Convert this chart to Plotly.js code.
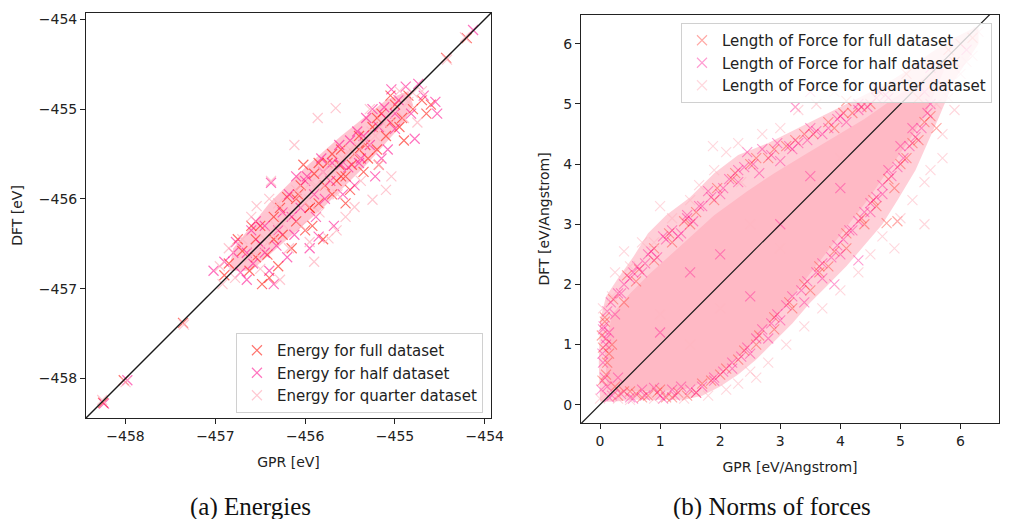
<!DOCTYPE html>
<html>
<head>
<meta charset="utf-8">
<script src="https://cdn.plot.ly/plotly-3.0.1.min.js"></script>
<style>html,body{margin:0;padding:0;background:#fff;}#chart{width:1011px;height:519px;}</style>
</head>
<body>
<div id="chart"></div>
<script>
// ---------- Energies (a) ----------
const energyFullGPR = [-458.25,-458.02,-457.36,-454.20,-454.43,
 -456.85,-456.70,-456.62,-456.55,-456.48,-456.42,-456.35,-456.30,-456.25,-456.20,-456.15,-456.10,-456.05,-456.00,-455.95,-455.90,-455.85,-455.80,-455.75,-455.70,-455.65,-455.60,-455.55,-455.50,-455.45,-455.40,-455.35,-455.30,-455.25,-455.20,-455.15,-455.10,-455.05,-455.00,-454.95,-454.90,-454.85,-454.80,-454.70,-454.65,-454.60,
 -456.75,-456.55,-456.40,-456.28,-456.08,-455.92,-455.78,-455.62,-455.48,-455.33,-455.18,-455.05,-454.92,-456.90,-456.02,-455.55,
 -456.60,-456.35,-456.10,-455.85,-455.60,-455.40,-455.20,-456.50,-455.95,-455.70];
const energyFullDFT = [-458.27,-458.02,-457.38,-454.21,-454.43,
 -456.72,-456.58,-456.80,-456.45,-456.95,-456.62,-456.20,-456.75,-456.40,-455.98,-456.55,-456.25,-455.85,-456.35,-456.10,-455.72,-456.05,-456.45,-455.60,-455.95,-455.80,-455.45,-455.75,-455.90,-455.50,-455.30,-455.70,-455.55,-455.20,-455.45,-455.05,-455.30,-455.15,-454.95,-455.20,-455.35,-454.85,-455.00,-454.90,-455.05,-454.95,
 -456.45,-456.65,-456.88,-456.10,-455.95,-456.30,-455.85,-455.62,-455.62,-455.40,-455.62,-454.85,-455.10,-456.85,-455.62,-456.05,
 -456.30,-456.45,-456.00,-455.60,-455.75,-455.45,-455.10,-456.30,-456.10,-455.50];

const energyHalfGPR = [-458.24,-457.98,-454.13,
 -457.02,-456.90,-456.80,-456.77,-456.65,-456.58,-456.50,-456.45,-456.40,-456.38,-456.32,-456.25,-456.20,-456.18,-456.12,-456.05,-455.98,-455.95,-455.88,-455.82,-455.78,-455.72,-455.68,-455.62,-455.58,-455.52,-455.45,-455.42,-455.38,-455.32,-455.28,-455.22,-455.18,-455.12,-455.08,-455.04,-455.00,-454.96,-454.88,-454.82,-454.78,-454.74,-454.68,-454.55,-454.53,
 -456.60,-456.35,-456.10,-455.85,-455.60,-455.35,-455.15,-456.72,
 -456.55,-456.30,-456.00,-455.90,-455.70,-455.50,-455.25,-455.10,-456.45,-456.15,-455.80,-455.40,-456.65,-455.00];
const energyHalfDFT = [-458.28,-458.02,-454.12,
 -456.80,-456.70,-456.60,-456.48,-456.90,-456.72,-456.50,-456.30,-456.80,-455.82,-456.52,-456.15,-456.65,-455.95,-456.40,-456.10,-455.75,-456.55,-456.20,-455.55,-456.00,-455.80,-456.30,-455.40,-455.95,-455.65,-455.85,-455.25,-455.55,-455.10,-455.40,-455.75,-455.20,-454.98,-455.45,-454.78,-455.22,-454.90,-454.75,-455.05,-455.33,-454.72,-454.85,-454.92,-455.05,
 -456.35,-456.95,-455.75,-456.42,-455.62,-455.30,-455.55,-456.82,
 -456.25,-456.35,-455.80,-455.95,-455.60,-455.35,-455.00,-455.10,-456.60,-456.20,-455.70,-455.60,-456.60,-455.05];

const energyQuarterGPR = [-458.26,-458.00,-457.35,-454.42,-454.22,
 -456.95,-456.85,-456.78,-456.70,-456.62,-456.60,-456.54,-456.50,-456.45,-456.40,-456.38,-456.33,-456.28,-456.22,-456.18,-456.12,-456.10,-456.04,-456.00,-455.94,-455.90,-455.86,-455.84,-455.80,-455.74,-455.70,-455.66,-455.64,-455.58,-455.55,-455.50,-455.45,-455.42,-455.38,-455.32,-455.28,-455.25,-455.22,-455.18,-455.14,-455.10,-455.06,-455.04,-455.00,-454.95,-454.90,-454.85,-454.80,-454.75,-454.70,
 -456.92,-456.48,-456.30,-456.15,-456.06,-455.96,-455.88,-455.76,-455.68,-455.60,-455.52,-455.44,-455.36,-455.26,-455.16,-455.08,-456.25,-456.36,-456.56,-455.80,-455.95,-455.65];
const energyQuarterDFT = [-458.24,-458.04,-457.40,-454.45,-454.20,
 -456.75,-456.55,-456.88,-456.45,-456.65,-456.20,-456.08,-456.78,-456.45,-456.00,-455.80,-456.30,-456.90,-456.20,-456.55,-455.40,-455.90,-456.30,-456.05,-455.82,-456.70,-455.10,-456.15,-455.70,-456.44,-455.65,-454.99,-455.95,-455.55,-456.20,-455.45,-456.09,-455.40,-455.80,-455.35,-455.00,-456.01,-455.30,-455.62,-455.15,-455.90,-455.08,-455.75,-455.00,-454.80,-455.10,-454.92,-454.82,-455.15,-454.80,
 -456.95,-456.55,-456.05,-456.15,-455.95,-456.00,-455.85,-455.75,-455.70,-455.58,-455.48,-455.50,-455.38,-455.25,-455.20,-455.10,-456.28,-456.40,-456.60,-455.86,-456.48,-456.35];

// dense core outline of the energy cloud
const energyCoreGPR = [-456.80,-456.40,-456.00,-455.60,-455.10,-454.85,-454.80,-454.90,-455.30,-455.80,-456.20,-456.60,-456.85];
const energyCoreDFT = [-456.55,-456.05,-455.65,-455.30,-454.90,-454.80,-454.95,-455.15,-455.60,-456.10,-456.45,-456.80,-456.80];

// ---------- Norms of forces (b) ----------
const forceFullGPR = [0.8,0.95,0.6,1.1,0.4,1.3,0.25,0.1,0.15,0.08,0.2,0.05,
 0.4,0.6,0.9,1.2,1.5,1.9,2.2,2.5,2.8,3.1,3.4,3.8,4.2,4.5,4.1,4.9,5.1,
 5.3,5.5,5.3,5.1,4.9,4.6,4.4,4.1,3.8,3.5,3.2,2.9,2.6,2.3,2.0,1.7,1.45,4.77,3.65,5.6,
 5.8,6.0,5.9,6.2,
 0.08,0.22,0.45,0.65,0.9,1.15,1.4,1.6,1.95,2.25,2.6,2.9,3.25,3.55,3.9,4.35,4.65,4.05,
 1.6,1.85,2.1,2.4,2.65,2.9,3.15,3.4,3.65,3.9,4.1,4.35,4.55,4.8,5.0,5.2,5.4,4.95,
 0.3,0.5,0.7,1.0,1.2,0.04,0.12,0.03];
const forceFullDFT = [0.15,0.2,0.18,0.12,0.22,0.2,0.3,0.5,0.85,1.38,1.0,0.95,
 1.7,2.05,2.4,2.7,3.0,3.4,3.75,4.0,4.1,4.3,4.5,4.7,4.85,5.0,5.05,5.3,5.5,
 5.1,4.8,4.4,4.1,3.6,3.3,3.0,2.6,2.3,1.9,1.6,1.25,1.0,0.75,0.5,0.35,0.15,3.02,2.2,4.6,
 5.9,6.0,5.7,6.1,
 1.45,1.75,2.15,2.25,2.6,2.85,3.05,3.2,3.6,3.85,4.1,4.25,4.4,4.5,4.6,4.95,5.2,4.85,
 0.2,0.4,0.6,0.9,1.15,1.45,1.7,2.0,2.3,2.55,2.85,3.1,3.4,3.75,4.0,4.35,4.7,3.05,
 0.15,0.22,0.12,0.25,0.12,0.4,0.7,1.15];

const forceHalfGPR = [0.2,0.5,0.7,1.0,1.2,1.6,0.12,0.05,0.15,0.25,0.1,0.3,
 0.35,0.55,0.75,0.8,1.05,1.35,1.45,1.7,1.8,2.05,2.3,2.45,2.7,2.95,3.2,3.5,3.7,4.0,4.3,3.25,3.5,4.6,4.8,
 5.4,5.2,5.0,4.8,4.7,4.5,4.2,4.0,3.7,3.4,3.0,2.8,2.5,2.2,1.9,5.7,5.5,6.1,4.3,3.9,
 1.0,2.0,3.0,2.5,1.5,3.5,4.0,
 0.05,0.12,0.18,0.3,0.4,0.5,0.62,0.7,0.85,0.95,1.1,1.2,1.3,1.45,1.55,1.65,1.85,2.0,2.15,2.3,2.4,2.55,2.65,2.85,3.0,3.15,3.3,3.45,3.6,3.8,3.95,4.1,4.3,4.45,4.6,4.75,
 1.5,1.7,1.9,2.05,2.2,2.35,2.45,2.6,2.7,2.85,2.95,3.1,3.2,3.35,3.45,3.6,3.7,3.85,3.95,4.05,4.15,4.3,4.4,4.5,4.6,4.7,4.85,4.95,5.05,5.15,5.25,5.35,5.45,5.5,
 0.15,0.35,0.55,0.75,0.9,1.05,1.25,1.35,0.02,0.08,0.04,0.1,0.06];
const forceHalfDFT = [0.15,0.12,0.25,0.15,0.25,0.2,0.3,0.7,1.2,1.5,1.1,0.45,
 1.85,2.2,2.35,2.5,2.8,2.85,3.1,3.3,3.55,3.6,3.9,4.2,4.25,4.35,4.25,4.6,4.5,4.8,5.0,4.95,5.2,5.25,5.1,
 5.2,4.6,4.3,3.9,3.5,3.2,2.9,2.5,2.1,1.7,1.4,1.1,0.85,0.6,0.4,5.3,5.6,5.9,2.4,2.0,
 1.2,2.5,3.0,1.8,2.2,3.8,3.6,
 1.25,1.55,1.7,1.85,2.0,2.1,2.3,2.2,2.55,2.45,2.75,2.9,2.8,3.15,3.05,3.3,3.45,3.5,3.75,3.7,3.95,4.0,3.85,4.15,4.05,4.3,4.35,4.4,4.55,4.6,4.75,4.7,4.9,4.95,5.1,5.15,
 0.25,0.3,0.45,0.55,0.7,0.8,0.95,1.1,1.25,1.35,1.5,1.65,1.8,1.9,2.05,2.2,2.35,2.45,2.65,2.75,2.9,3.05,3.2,3.35,3.45,3.65,3.8,3.95,4.1,4.3,4.45,4.6,4.85,5.0,
 0.12,0.18,0.1,0.15,0.28,0.1,0.15,0.3,0.25,0.45,0.85,1.0,1.3];

const forceQuarterGPR = [0.0,0.1,0.3,0.5,0.9,1.4,1.8,2.1,2.5,2.3,
 0.05,0.2,0.25,0.5,0.7,0.9,1.0,1.2,1.5,1.65,1.9,1.88,2.1,2.3,2.7,3.0,3.3,3.6,3.9,4.2,2.35,0.4,
 5.7,5.5,5.4,5.2,5.0,4.7,4.5,4.3,4.0,3.7,3.4,3.1,2.8,2.6,5.7,5.9,6.0,6.3,6.1,5.8,6.2,5.4,4.9,5.6,
 1.0,2.0,3.0,4.0,1.5,2.5];
const forceQuarterDFT = [0.1,0.15,0.1,0.08,0.1,0.1,0.15,0.25,0.55,0.35,
 1.6,1.8,2.2,2.3,2.7,2.7,3.3,3.1,3.4,3.65,3.9,4.3,4.2,4.35,4.5,4.6,4.9,5.0,5.2,5.3,3.7,2.55,
 4.1,3.9,3.7,3.4,3.1,2.8,2.5,2.2,1.9,1.6,1.3,1.0,0.7,0.45,4.5,4.9,5.5,6.2,5.7,5.1,5.8,3.0,2.6,5.0,
 1.5,1.6,2.6,4.1,1.0,3.0];

// outline of the scattered fringe and of the saturated core of the force cloud
const forceFringeGPR = [0.0,-0.02,0.0,0.1,0.3,0.55,0.8,1.1,1.5,1.9,2.3,2.8,3.2,3.7,4.2,4.7,5.1,5.5,5.9,6.3,6.3,5.9,5.65,5.45,5.25,4.95,4.7,4.4,4.1,3.8,3.5,3.2,2.9,2.6,2.3,2.0,1.7,1.4,1.0,0.6,0.2];
const forceFringeDFT = [0.05,0.7,1.4,1.8,2.1,2.45,2.85,3.15,3.45,3.85,4.15,4.35,4.55,4.8,5.05,5.3,5.55,5.85,6.1,6.3,6.0,5.4,4.8,4.35,3.9,3.4,3.0,2.65,2.3,2.0,1.7,1.35,1.05,0.75,0.5,0.3,0.15,0.08,0.08,0.08,0.05];
const forceCoreGPR = [0.12,0.08,0.2,0.5,0.8,1.3,1.9,2.45,2.9,3.4,3.9,4.4,4.9,5.4,5.8,5.45,5.15,4.8,4.45,4.1,3.75,3.4,3.0,2.6,2.2,1.8,1.4,1.0,0.6,0.3];
const forceCoreDFT = [0.25,0.9,1.5,1.85,2.15,2.6,3.15,3.55,3.85,4.15,4.45,4.75,5.1,5.45,5.75,4.9,4.4,3.9,3.4,2.95,2.5,2.05,1.55,1.1,0.7,0.4,0.25,0.23,0.22,0.22];

const energyDiag = [-458.5, -453.9];
const forceDiag = [-0.4, 6.7];

const energyTicks = [-458,-457,-456,-455,-454];
const forceTicks = [0,1,2,3,4,5,6];

// ---------- styling ----------
const FONT = 'DejaVu Sans, sans-serif';
const mk = (col, w) => ({symbol:'x-thin', size:10, color:col, line:{width:w, color:col}});

const traces = [
 {x:energyCoreGPR, y:energyCoreDFT, xaxis:'x', yaxis:'y', mode:'lines', fill:'toself',
  fillcolor:'rgba(255,172,190,0.7)', line:{width:0}, showlegend:false, hoverinfo:'skip'},
 {x:energyFullGPR, y:energyFullDFT, xaxis:'x', yaxis:'y', mode:'markers', name:'Energy for full dataset',
  marker:mk('rgba(255,40,30,0.65)',1.2), legend:'legend', legendgroup:'e1'},
 {x:energyHalfGPR, y:energyHalfDFT, xaxis:'x', yaxis:'y', mode:'markers', name:'Energy for half dataset',
  marker:mk('rgba(255,20,147,0.6)',1.2), legend:'legend', legendgroup:'e2'},
 {x:energyQuarterGPR, y:energyQuarterDFT, xaxis:'x', yaxis:'y', mode:'markers', name:'Energy for quarter dataset',
  marker:mk('rgba(255,182,193,0.75)',1.2), legend:'legend', legendgroup:'e3'},
 {x:energyDiag, y:energyDiag, xaxis:'x', yaxis:'y', mode:'lines', line:{color:'#1a1a1a', width:1.4},
  showlegend:false, hoverinfo:'skip'},

 {x:forceFringeGPR, y:forceFringeDFT, xaxis:'x2', yaxis:'y2', mode:'lines', fill:'toself',
  fillcolor:'rgba(255,186,199,0.7)', line:{width:0}, showlegend:false, hoverinfo:'skip'},
 {x:forceCoreGPR, y:forceCoreDFT, xaxis:'x2', yaxis:'y2', mode:'lines', fill:'toself',
  fillcolor:'#ffb9c5', line:{width:0}, showlegend:false, hoverinfo:'skip'},
 {x:forceFullGPR, y:forceFullDFT, xaxis:'x2', yaxis:'y2', mode:'markers', name:'Length of Force for full dataset',
  marker:mk('rgba(255,50,40,0.42)',1.1), legend:'legend2', legendgroup:'f1'},
 {x:forceHalfGPR, y:forceHalfDFT, xaxis:'x2', yaxis:'y2', mode:'markers', name:'Length of Force for half dataset',
  marker:mk('rgba(255,20,147,0.42)',1.1), legend:'legend2', legendgroup:'f2'},
 {x:forceQuarterGPR, y:forceQuarterDFT, xaxis:'x2', yaxis:'y2', mode:'markers', name:'Length of Force for quarter dataset',
  marker:mk('rgba(255,182,193,0.55)',1.1), legend:'legend2', legendgroup:'f3'},
 {x:forceDiag, y:forceDiag, xaxis:'x2', yaxis:'y2', mode:'lines', line:{color:'#1a1a1a', width:1.2},
  showlegend:false, hoverinfo:'skip'}
];

const axisBase = {showline:true, mirror:true, linecolor:'#222', linewidth:1, ticks:'outside', ticklen:5,
  tickcolor:'#222', tickwidth:1, showgrid:false, zeroline:false, tickfont:{family:FONT, size:14, color:'#222'}};
const titleFont = {family:FONT, size:14, color:'#222'};

const legendBase = {font:{family:FONT, size:15, color:'#222'}, bgcolor:'rgba(255,255,255,0.8)',
  bordercolor:'#d0d0d0', borderwidth:1, tracegroupgap:0, itemwidth:30};

const layout = {
 width:1011, height:519, margin:{l:0,r:0,t:0,b:0}, paper_bgcolor:'#fff', plot_bgcolor:'#fff',
 font:{family:FONT, size:14, color:'#222'}, hovermode:false,
 xaxis: Object.assign({}, axisBase, {domain:[0.0851,0.4857], range:[-458.44,-453.93], tickvals:energyTicks,
   title:{text:'GPR [eV]', font:titleFont, standoff:14}, anchor:'y'}),
 yaxis: Object.assign({}, axisBase, {domain:[0.1946,0.9750], range:[-458.44,-453.93], tickvals:energyTicks,
   title:{text:'DFT [eV]', font:titleFont, standoff:12}, anchor:'x'}),
 xaxis2: Object.assign({}, axisBase, {domain:[0.5747,0.9881], range:[-0.316,6.64], tickvals:forceTicks,
   title:{text:'GPR [eV/Angstrom]', font:titleFont, standoff:14}, anchor:'y2'}),
 yaxis2: Object.assign({}, axisBase, {domain:[0.1850,0.9711], range:[-0.305,6.48], tickvals:forceTicks,
   title:{text:'DFT [eV/Angstrom]', font:titleFont, standoff:10}, anchor:'x2'}),
 legend: Object.assign({}, legendBase, {x:0.4777, xanchor:'right', y:0.2042, yanchor:'bottom'}),
 legend2: Object.assign({}, legendBase, {x:0.9812, xanchor:'right', y:0.9557, yanchor:'top'}),
 annotations:[
  {text:'(a) Energies', xref:'paper', yref:'paper', x:250/1011, y:(519-507)/519, xanchor:'center', yanchor:'middle',
   showarrow:false, font:{family:'Liberation Serif, serif', size:25, color:'#111'}},
  {text:'(b) Norms of forces', xref:'paper', yref:'paper', x:772/1011, y:(519-507)/519, xanchor:'center', yanchor:'middle',
   showarrow:false, font:{family:'Liberation Serif, serif', size:25, color:'#111'}}
 ]
};

Plotly.newPlot('chart', traces, layout, {displayModeBar:false, staticPlot:true});
</script>
</body>
</html>
